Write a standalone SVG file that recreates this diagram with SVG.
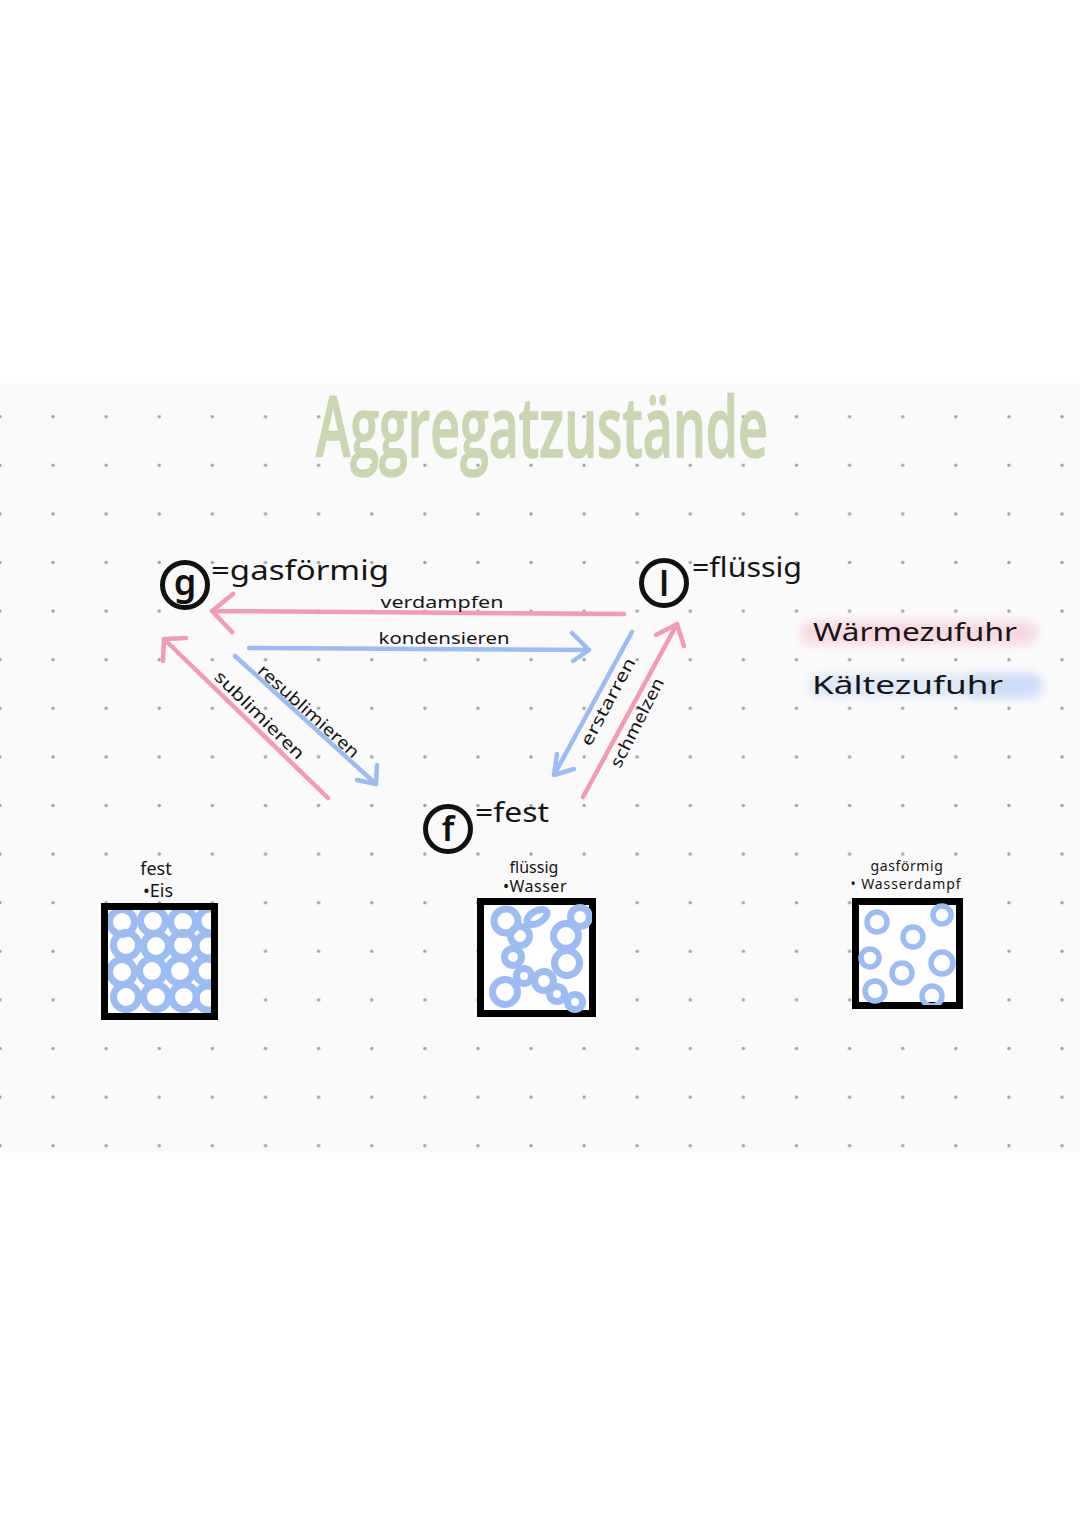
<svg xmlns="http://www.w3.org/2000/svg" width="1080" height="1528" viewBox="0 0 1080 1528">
<defs>
<style>
.lbl{font-family:"Noto Sans","Open Sans",sans-serif;fill:#151515}
.pink{fill:none;stroke:#f39bb6;stroke-width:4.5;stroke-linecap:round;stroke-linejoin:round}
.blue{fill:none;stroke:#9cbcf4;stroke-width:4.5;stroke-linecap:round;stroke-linejoin:round}
.node{fill:none;stroke:#111;stroke-width:5}
.nl{font-family:"Noto Sans","Open Sans",sans-serif;fill:#111;font-weight:600}
.box{fill:#fff;stroke:#000;stroke-width:7}
.mol{fill:none;stroke:#9cbcf4;stroke-width:7}
.mol2{fill:none;stroke:#9cbcf4;stroke-width:5.5}
.dot{fill:#a3a3a3}
</style>
<pattern id="dots" patternUnits="userSpaceOnUse" x="-26.55" y="392.4" width="53.1" height="48.6">
<circle class="dot" cx="26.55" cy="24.3" r="1.7"/>
</pattern>
<filter id="blur" x="-20%" y="-80%" width="140%" height="260%"><feGaussianBlur stdDeviation="5"/></filter>
<clipPath id="clipEis"><rect x="108" y="910" width="103" height="103"/></clipPath>
<clipPath id="clipWasser"><rect x="481" y="902" width="111" height="111"/></clipPath>
<clipPath id="clipDampf"><rect x="856" y="902" width="103" height="103"/></clipPath>
</defs>
<rect x="0" y="0" width="1080" height="1528" fill="#ffffff"/>
<rect x="0" y="383" width="1080" height="770" fill="#fafafa"/>
<rect x="0" y="392" width="1080" height="760" fill="url(#dots)"/>

<g id="title">
<text x="316" y="457" font-family="'Open Sans',sans-serif" font-weight="600" font-size="84" fill="#cad6b0" stroke="#cad6b0" stroke-width="1.5" stroke-linejoin="round" textLength="452" lengthAdjust="spacingAndGlyphs">Aggregatzustände</text>
</g>

<g id="legend">
<rect x="800" y="621" width="238" height="24" rx="12" fill="#f8cbd6" opacity="0.7" filter="url(#blur)"/>
<rect x="808" y="674" width="236" height="24" rx="12" fill="#d6e2f8" opacity="0.7" filter="url(#blur)"/>
<rect x="965" y="673" width="75" height="24" rx="12" fill="#bcd0f6" opacity="0.5" filter="url(#blur)"/>
<text class="lbl" x="813" y="641" font-size="26" textLength="204" lengthAdjust="spacingAndGlyphs">Wärmezufuhr</text>
<text class="lbl" x="812" y="694" font-size="26" textLength="191" lengthAdjust="spacingAndGlyphs">Kältezufuhr</text>
</g>

<g id="connectors">
<g id="verdampfen">
<path class="pink" d="M624 614 L212 611 M233 594 L212 611 L232 632"/>
<text class="lbl" x="442" y="608" font-size="17" text-anchor="middle" textLength="123" lengthAdjust="spacingAndGlyphs">verdampfen</text>
</g>
<g id="kondensieren">
<path class="blue" d="M249 648 L589 650 M572 633 L589 650 L573 661"/>
<text class="lbl" x="444" y="644" font-size="17" text-anchor="middle" textLength="131" lengthAdjust="spacingAndGlyphs">kondensieren</text>
</g>
<g id="sublimieren">
<path class="pink" d="M328 798 L164 639 M186 638 L164 639 L163 661"/>
<text class="lbl" transform="translate(259.6 715) rotate(44.3)" x="0" y="6" font-size="17" text-anchor="middle" textLength="118" lengthAdjust="spacingAndGlyphs">sublimieren</text>
</g>
<g id="resublimieren">
<path class="blue" d="M235 656 L376 784 M377 765 L376 784 L357 780"/>
<text class="lbl" transform="translate(308.7 711) rotate(42)" x="0" y="6" font-size="17" text-anchor="middle" textLength="130" lengthAdjust="spacingAndGlyphs">resublimieren</text>
</g>
<g id="erstarren">
<path class="blue" d="M632 632 L554 775 M557 754 L554 775 L574 769"/>
<text class="lbl" transform="translate(607.8 701.5) rotate(-62)" x="0" y="6" font-size="17" text-anchor="middle" textLength="97" lengthAdjust="spacingAndGlyphs">erstarren</text>
</g>
<g id="schmelzen">
<path class="pink" d="M583 797 L677 624 M656 635 L677 624 L684 646"/>
<text class="lbl" transform="translate(637 722.5) rotate(-63)" x="0" y="6" font-size="17" text-anchor="middle" textLength="98" lengthAdjust="spacingAndGlyphs">schmelzen</text>
</g>
</g>

<g id="node-g">
<circle class="node" cx="185" cy="585" r="22.5"/>
<text class="nl" x="185" y="595" font-size="36" text-anchor="middle">g</text>
<text class="lbl" x="211" y="580" font-size="28" textLength="178" lengthAdjust="spacingAndGlyphs">=gasförmig</text>
</g>

<g id="node-l">
<circle class="node" cx="664" cy="583" r="22.5"/>
<text class="nl" x="664" y="596" font-size="34" text-anchor="middle">l</text>
<text class="lbl" x="692" y="577" font-size="28" textLength="110" lengthAdjust="spacingAndGlyphs">=flüssig</text>
</g>

<g id="node-f">
<circle class="node" cx="448" cy="829" r="22.5"/>
<text class="nl" x="448" y="841" font-size="34" text-anchor="middle">f</text>
<text class="lbl" x="475" y="822" font-size="28" textLength="74" lengthAdjust="spacingAndGlyphs">=fest</text>
</g>

<g id="box-eis">
<text class="lbl" x="156" y="875" font-size="18" text-anchor="middle">fest</text>
<text class="lbl" x="158" y="897" font-size="18" text-anchor="middle">•Eis</text>
<rect class="box" x="104.5" y="906.5" width="110" height="110"/>
<g clip-path="url(#clipEis)">
<circle class="mol" cx="122" cy="922" r="12.5"/><circle class="mol" cx="153" cy="921" r="12.5"/><circle class="mol" cx="183" cy="922" r="12.5"/><circle class="mol" cx="210" cy="921" r="12"/>
<circle class="mol" cx="126" cy="945" r="12.5"/><circle class="mol" cx="156" cy="946" r="12.5"/><circle class="mol" cx="183" cy="945" r="12.5"/><circle class="mol" cx="208" cy="946" r="12"/>
<circle class="mol" cx="122" cy="972" r="12.5"/><circle class="mol" cx="152" cy="971" r="12.5"/><circle class="mol" cx="180" cy="971" r="12.5"/><circle class="mol" cx="207" cy="971" r="12"/>
<circle class="mol" cx="126" cy="997" r="12.5"/><circle class="mol" cx="156" cy="997" r="12.5"/><circle class="mol" cx="184" cy="997" r="12.5"/><circle class="mol" cx="208" cy="998" r="12"/>
</g>
</g>

<g id="box-wasser">
<text class="lbl" x="534" y="873" font-size="16" text-anchor="middle">flüssig</text>
<text class="lbl" x="535" y="892" font-size="16" text-anchor="middle" letter-spacing="0.5">•Wasser</text>
<rect class="box" x="480.5" y="901.5" width="112" height="112"/>
<g clip-path="url(#clipWasser)">
<circle class="mol" cx="506" cy="921" r="12"/>
<ellipse class="mol" cx="537" cy="917" rx="11" ry="6" transform="rotate(-30 537 917)"/>
<circle class="mol" cx="580" cy="917" r="9.5"/>
<circle class="mol" cx="520" cy="936" r="9.5"/>
<circle class="mol" cx="566" cy="936" r="12.5"/>
<circle class="mol" cx="513" cy="957" r="8.5"/>
<circle class="mol" cx="567" cy="963" r="12.5"/>
<circle class="mol" cx="524" cy="976" r="7.5"/>
<circle class="mol" cx="544" cy="981" r="9.5"/>
<circle class="mol" cx="505" cy="992" r="12.5"/>
<circle class="mol" cx="557" cy="994" r="7.5"/>
<circle class="mol" cx="575" cy="1002" r="7.5"/>
</g>
</g>

<g id="box-dampf">
<text class="lbl" x="907" y="871" font-size="14" text-anchor="middle" letter-spacing="0.6">gasförmig</text>
<text class="lbl" x="906" y="889" font-size="14" text-anchor="middle" letter-spacing="0.9">• Wasserdampf</text>
<rect class="box" x="855.5" y="901.5" width="104" height="104"/>
<g clip-path="url(#clipDampf)">
<circle class="mol2" cx="877" cy="922" r="10"/>
<circle class="mol2" cx="942" cy="915" r="9"/>
<circle class="mol2" cx="913" cy="937" r="10"/>
<circle class="mol2" cx="870" cy="958" r="9"/>
<circle class="mol2" cx="942" cy="963" r="11"/>
<circle class="mol2" cx="902" cy="973" r="10"/>
<circle class="mol2" cx="875" cy="991" r="10"/>
<circle class="mol2" cx="932" cy="996" r="10"/>
</g>
</g>
</svg>
